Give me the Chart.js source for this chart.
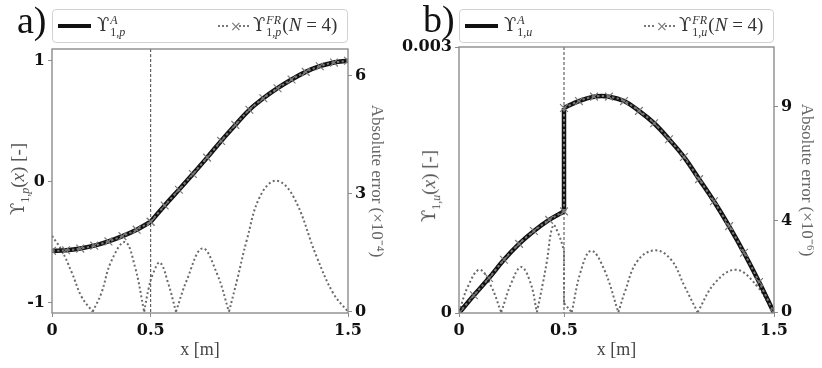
<!DOCTYPE html>
<html>
<head>
<meta charset="utf-8">
<script src="https://cdn.jsdelivr.net/npm/chart.js@4.4.1/dist/chart.umd.min.js"></script>
<style>
html, body { margin: 0; padding: 0; background: #fff; }
#wrap { position: relative; width: 822px; height: 368px; overflow: hidden; font-family: "Liberation Serif", serif; }
canvas { position: absolute; top: 0; }
#cA { left: 0; }
#cB { left: 390px; }
.panel { position: absolute; font-size: 38px; line-height: 1; color: #111; }
.legend { position: absolute; top: 9px; height: 34px; box-sizing: border-box; border: 1px solid #d2d2d2; border-radius: 4px; background: #fff; }
.entry { position: absolute; top: 0; height: 32px; display: flex; align-items: center; color: #333; font-size: 19px; white-space: nowrap; }
.solid { display: inline-block; width: 33px; height: 4px; background: #111; margin-right: 4px; }
.dots { display: inline-block; width: 12px; height: 2px; background: repeating-linear-gradient(90deg, #777 0 2px, transparent 2px 4px); }
.mk { display: inline-block; font-size: 14px; color: #777; width: 9px; text-align: center; font-family: "DejaVu Sans"; }
.lab { margin-left: 2px; }
.ups { font-family: "DejaVu Serif"; font-size: 18px; }
.ss { display: inline-flex; flex-direction: column; font-size: 12px; line-height: 12px; vertical-align: middle; margin-left: 1px; margin-right: 1px; }
.ytitle { position: absolute; transform: translate(-50%, -50%) rotate(-90deg); white-space: nowrap; color: #555; font-size: 19px; }
.ytitle sub { font-size: 12px; }
</style>
</head>
<body>
<div id="wrap">
  <canvas id="cA" width="411" height="368"></canvas>
  <canvas id="cB" width="432" height="368"></canvas>

  <div class="panel" style="left:17px;top:1px">a)</div>
  <div class="panel" style="left:423px;top:0px">b)</div>

  <div class="legend" style="left:52px;width:296px">
    <div class="entry" style="left:5px"><span class="solid"></span><span class="lab"><span class="ups">ϒ</span><span class="ss"><i>A</i><span>1,<i>p</i></span></span></span></div>
    <div class="entry" style="left:165px"><span class="dots"></span><span class="mk">×</span><span class="dots"></span><span class="lab"><span class="ups">ϒ</span><span class="ss"><i>FR</i><span>1,<i>p</i></span></span>(<i>N</i> = 4)</span></div>
  </div>
  <div class="legend" style="left:459px;width:315px">
    <div class="entry" style="left:5px"><span class="solid"></span><span class="lab"><span class="ups">ϒ</span><span class="ss"><i>A</i><span>1,<i>u</i></span></span></span></div>
    <div class="entry" style="left:184px"><span class="dots"></span><span class="mk">×</span><span class="dots"></span><span class="lab"><span class="ups">ϒ</span><span class="ss"><i>FR</i><span>1,<i>u</i></span></span>(<i>N</i> = 4)</span></div>
  </div>

  <div class="ytitle" style="left:20px;top:179px"><span class="ups">ϒ</span><sub>1,<i>p</i></sub>(<i>x</i>) [-]</div>
  <div class="ytitle" style="left:431px;top:186px"><span class="ups">ϒ</span><sub>1,<i>u</i></sub>(<i>x</i>) [-]</div>
</div>

<script>
// position along the bar [m], same grid for both panels (0.5 twice: interface)
const xGrid = [0, 0.071, 0.143, 0.214, 0.286, 0.357, 0.429, 0.5,
               0.5, 0.571, 0.643, 0.714, 0.786, 0.857, 0.929, 1.0,
               1.071, 1.143, 1.214, 1.286, 1.357, 1.429, 1.5];

// a) pressure mode shape (analytic, FR overlays it at this scale)
const upsP = [-0.570, -0.565, -0.551, -0.527, -0.492, -0.448, -0.395, -0.330,
              -0.330, -0.195, -0.065, 0.065, 0.200, 0.338, 0.470, 0.595,
              0.690, 0.773, 0.845, 0.908, 0.955, 0.985, 1.000];

// b) displacement mode shape
const upsU = [0, 0.000200, 0.000395, 0.000600, 0.000780, 0.000925, 0.001050, 0.001146,
              0.002312, 0.002390, 0.002440, 0.002440, 0.002390, 0.002280, 0.002140, 0.001960,
              0.001760, 0.001510, 0.001260, 0.000980, 0.000680, 0.000350, 0];

// absolute error, a) x1e-4
const errPx = [0, 0.05, 0.10, 0.15, 0.206,
               0.25, 0.30, 0.37, 0.42, 0.467,
               0.49, 0.513, 0.547, 0.589, 0.628,
               0.683, 0.762, 0.835, 0.897,
               0.94, 0.987, 1.054, 1.135, 1.223, 1.341, 1.425, 1.5];
const errPy = [1.93, 1.55, 1.0, 0.38, 0,
               0.47, 1.28, 1.77, 1.15, 0,
               0.6, 0.98, 1.25, 0.72, 0,
               0.8, 1.61, 0.98, 0,
               0.85, 1.82, 2.93, 3.33, 2.93, 1.40, 0.47, 0];

// absolute error, b) x1e-6
const errUx = [0, 0.043, 0.098, 0.15, 0.201,
               0.25, 0.296, 0.34, 0.371,
               0.40, 0.418, 0.448, 0.475, 0.5,
               0.5, 0.537,
               0.58, 0.629, 0.69, 0.759,
               0.79, 0.85, 0.934, 1.01, 1.074, 1.136,
               1.22, 1.318, 1.41, 1.5];
const errUy = [0, 1.14, 1.86, 1.2, 0,
               1.3, 1.98, 1.3, 0,
               1.3, 2.2, 3.8, 3.4, 2.7,
               0.4, 0,
               1.8, 2.69, 1.9, 0,
               0.9, 2.25, 2.71, 2.3, 1.14, 0,
               1.3, 1.86, 1.25, 0];

const xTicks = [0, 0.5, 1.5];
const pTicks = [-1, 0, 1];
const errPTicks = [0, 3, 6];
const uTicks = [0, 0.003];
const errUTicks = [0, 4, 9];
const interfaceX = 0.5;

Chart.defaults.font.family = 'DejaVu Serif';

// cut a series into smooth pieces: at repeated x (jump/kink) and optionally at zeros
function pieces(xs, ys, cutAtZero) {
    const out = [];
    let cur = [{ x: xs[0], y: ys[0] }];
    for (let i = 1; i < xs.length; i++) {
        const p = { x: xs[i], y: ys[i] };
        if (xs[i] === xs[i - 1]) {
            out.push({ pts: cur, jump: false });
            out.push({ pts: [cur[cur.length - 1], p], jump: true });
            cur = [p];
            continue;
        }
        cur.push(p);
        if (cutAtZero && ys[i] === 0 && i < xs.length - 1) {
            out.push({ pts: cur, jump: false });
            cur = [p];
        }
    }
    out.push({ pts: cur, jump: false });
    return out;
}

function buildDatasets(xs, ys, exs, eys) {
    const ds = [];
    pieces(xs, ys, false).forEach(function (pc) {
        ds.push({
            data: pc.pts, yAxisID: 'y', order: 1,
            borderColor: '#7a7a7a', borderWidth: 2, borderDash: [2.5, 2.5],
            tension: pc.jump ? 0 : 0.4,
            pointStyle: 'crossRot', pointRadius: pc.jump ? 0 : 5.5,
            pointBorderColor: '#7a7a7a', pointBorderWidth: 1.2
        });
        ds.push({
            data: pc.pts, yAxisID: 'y', order: 2,
            borderColor: '#111', borderWidth: 4.5,
            tension: pc.jump ? 0 : 0.4, pointRadius: 0
        });
    });
    pieces(exs, eys, true).forEach(function (pc) {
        ds.push({
            data: pc.pts, yAxisID: 'y1', order: 3,
            borderColor: '#6a6a6a', borderWidth: 2, borderDash: [2, 2.5],
            tension: pc.jump ? 0 : 0.4, pointRadius: 0
        });
    });
    return ds;
}

const framePlugin = {
    id: 'frame',
    beforeDatasetsDraw(chart) {
        const a = chart.chartArea;
        const px = chart.scales.x.getPixelForValue(interfaceX);
        const ctx = chart.ctx;
        ctx.save();
        ctx.strokeStyle = '#444';
        ctx.lineWidth = 1;
        ctx.setLineDash([3, 2]);
        ctx.beginPath();
        ctx.moveTo(px, a.top);
        ctx.lineTo(px, a.bottom);
        ctx.stroke();
        ctx.restore();
    },
    afterDraw(chart) {
        const a = chart.chartArea;
        const ctx = chart.ctx;
        ctx.save();
        ctx.strokeStyle = '#8c8c8c';
        ctx.lineWidth = 1.4;
        ctx.strokeRect(a.left, a.top, a.right - a.left, a.bottom - a.top);
        ctx.restore();
    }
};

const tickFont = { family: 'DejaVu Serif', size: 16, weight: 'bold' };
const titleFont = { family: 'Liberation Serif', size: 18 };
const gridOpts = { display: true, drawOnChartArea: false, drawTicks: true, tickLength: 4, color: '#8c8c8c' };

function makeChart(id, xs, ys, exs, eys, cfg) {
    const ctx = document.getElementById(id).getContext('2d');
    return new Chart(ctx, {
        type: 'line',
        data: { datasets: buildDatasets(xs, ys, exs, eys) },
        options: {
            responsive: false,
            animation: false,
            events: [],
            layout: { padding: { top: cfg.top, left: 0, right: 0, bottom: 0 } },
            plugins: { legend: { display: false }, tooltip: { enabled: false } },
            scales: {
                x: {
                    type: 'linear', min: 0, max: 1.5,
                    afterBuildTicks: function (s) { s.ticks = xTicks.map(v => ({ value: v })); },
                    afterFit: function (s) { s.height = 55; },
                    ticks: { font: tickFont, color: '#111', padding: 4, maxRotation: 0, callback: v => String(v) },
                    grid: gridOpts, border: { display: false },
                    title: { display: true, text: 'x [m]', font: titleFont, color: '#444', padding: { top: 0, bottom: 7 } }
                },
                y: {
                    position: 'left', min: cfg.yMin, max: cfg.yMax,
                    afterBuildTicks: function (s) { s.ticks = cfg.yTicks.map(v => ({ value: v })); },
                    afterFit: function (s) { s.width = cfg.leftW; },
                    ticks: { font: tickFont, color: '#111', padding: 3, callback: v => String(v) },
                    grid: gridOpts, border: { display: false }
                },
                y1: {
                    position: 'right', min: cfg.eMin, max: cfg.eMax,
                    afterBuildTicks: function (s) { s.ticks = cfg.eTicks.map(v => ({ value: v })); },
                    afterFit: function (s) { s.width = cfg.rightW; },
                    ticks: { font: tickFont, color: '#111', padding: 3, callback: v => String(v) },
                    grid: gridOpts, border: { display: false },
                    title: { display: true, text: cfg.eTitle, font: { family: 'Liberation Serif', size: 17 }, color: '#666', padding: { top: cfg.eTitlePad, bottom: 0 } }
                }
            }
        },
        plugins: [framePlugin]
    });
}

makeChart('cA', xGrid, upsP, errPx, errPy, {
    top: 49, leftW: 52, rightW: 63,
    yMin: -1.083, yMax: 1.097, yTicks: pTicks,
    eMin: -0.033, eMax: 6.68, eTicks: errPTicks,
    eTitle: 'Absolute error (×10⁻⁴)', eTitlePad: 24
});

makeChart('cB', xGrid, upsU, errUx, errUy, {
    top: 47, leftW: 69, rightW: 48,
    yMin: 0, yMax: 0.003, yTicks: uTicks,
    eMin: -0.03, eMax: 11.6, eTicks: errUTicks,
    eTitle: 'Absolute error (×10⁻⁶)', eTitlePad: 5
});
</script>
</body>
</html>
